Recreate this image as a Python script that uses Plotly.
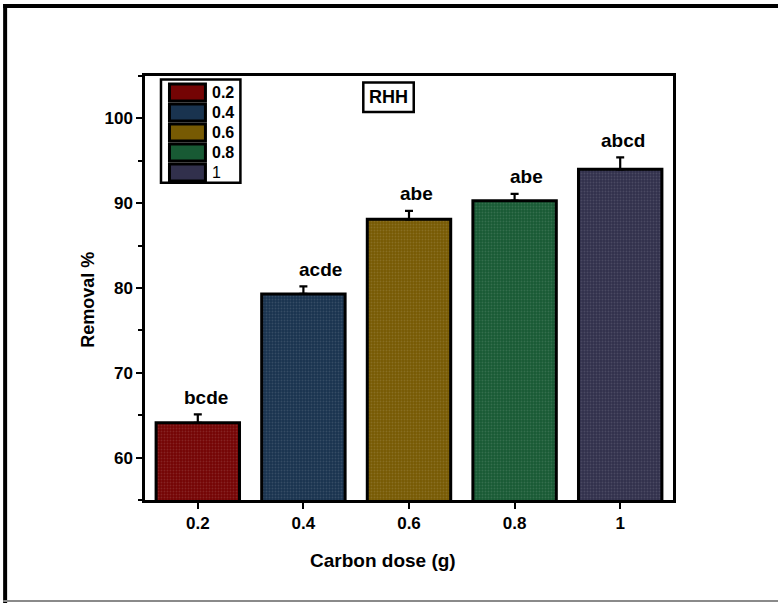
import plotly.graph_objects as go

# Removal efficiency versus carbon dose (RHH)
doses = ["0.2", "0.4", "0.6", "0.8", "1"]
removal = [64.1, 79.3, 88.1, 90.3, 94.0]
removal_err = [1.0, 0.9, 1.0, 0.8, 1.4]
letters = ["bcde", "acde", "abe", "abe", "abcd"]
bar_colors = ["#740404", "#19334f", "#775a03", "#185a34", "#31304c"]
legend_bold = [True, True, True, True, False]

# small horizontal nudges for the significance letters (px)
letter_dx = [8, 17, 7, 12, 3]

FONT = "Liberation Sans, Arial, sans-serif"

# plot-area geometry in pixels
W, H = 778, 603
L, R, T, B = 145, 104.5, 76, 102.5
PW, PH = W - L - R, H - T - B


def px(x):
    return (x - L) / PW


def py(y):
    return (H - B - y) / PH


fig = go.Figure()
fig.add_trace(go.Bar(
    x=doses,
    y=removal,
    width=0.79,
    marker=dict(
        color=bar_colors,
        line=dict(color="black", width=3),
        pattern=dict(shape=".", size=3, solidity=0.3,
                     fgcolor="white", fgopacity=0.12),
    ),
    error_y=dict(type="data", symmetric=False, array=removal_err,
                 arrayminus=[0] * len(removal), color="black",
                 thickness=2.2, width=4),
    showlegend=False,
))

# significance letters above each error bar (category index positions)
for i, (v, e, t, dx) in enumerate(zip(removal, removal_err, letters, letter_dx)):
    fig.add_annotation(x=i, y=v + e, text=t, showarrow=False,
                       xanchor="center", yanchor="middle",
                       xshift=dx, yshift=17,
                       font=dict(family=FONT, size=19, color="black", weight="bold"))

shapes = []
# legend box
shapes.append(dict(type="rect", xref="paper", yref="paper",
                   x0=px(161), x1=px(240.5), y0=py(79.5), y1=py(183),
                   line=dict(color="black", width=2.5), fillcolor="white"))
row0, step = 92.5, 20
for i, (name, col, bold) in enumerate(zip(doses, bar_colors, legend_bold)):
    cy = row0 + i * step
    shapes.append(dict(type="rect", xref="paper", yref="paper",
                       x0=px(169.5), x1=px(205.5), y0=py(cy + 8.5), y1=py(cy - 8.5),
                       line=dict(color="black", width=3), fillcolor=col))
    fig.add_annotation(xref="paper", yref="paper", x=px(210), y=py(cy),
                       text=name, showarrow=False, xanchor="left", yanchor="middle",
                       font=dict(family=FONT, size=16, color="black",
                                 weight="bold" if bold else "normal"))

# sample tag box
shapes.append(dict(type="rect", xref="paper", yref="paper",
                   x0=px(363.5), x1=px(414), y0=py(112), y1=py(82.5),
                   line=dict(color="black", width=2.5), fillcolor="white"))
fig.add_annotation(xref="paper", yref="paper", x=px(388.7), y=py(97.5),
                   text="RHH", showarrow=False, xanchor="center", yanchor="middle",
                   font=dict(family=FONT, size=18, color="black", weight="bold"))

# outer page frame
shapes.append(dict(type="line", xref="paper", yref="paper",
                   x0=px(3), x1=px(780), y0=py(6), y1=py(6),
                   line=dict(color="black", width=4)))
shapes.append(dict(type="line", xref="paper", yref="paper",
                   x0=px(5), x1=px(5), y0=py(4), y1=py(605),
                   line=dict(color="black", width=4)))
shapes.append(dict(type="line", xref="paper", yref="paper",
                   x0=px(3), x1=px(780), y0=py(601.5), y1=py(601.5),
                   line=dict(color="#8a8a8a", width=2)))

# axis titles
fig.add_annotation(xref="paper", yref="paper", x=px(383), y=py(561),
                   text="Carbon dose (g)", showarrow=False,
                   xanchor="center", yanchor="middle",
                   font=dict(family=FONT, size=19, color="black", weight="bold"))
fig.add_annotation(xref="paper", yref="paper", x=px(88), y=py(300),
                   text="Removal %", showarrow=False, textangle=-90,
                   xanchor="center", yanchor="middle",
                   font=dict(family=FONT, size=18, color="black", weight="bold"))

fig.update_layout(
    width=W, height=H,
    margin=dict(l=L, r=R, t=T, b=B, pad=0),
    paper_bgcolor="white", plot_bgcolor="white",
    shapes=shapes,
    bargap=0.2,
    xaxis=dict(
        type="category", range=[-0.5, 4.5],
        showline=True, linecolor="black", linewidth=2.5, mirror=True,
        ticks="outside", ticklen=6, tickwidth=2, tickcolor="black",
        showgrid=False, zeroline=False,
        tickfont=dict(family=FONT, size=17, color="black", weight="bold"),
    ),
    yaxis=dict(
        range=[55, 105], tick0=0, dtick=10,
        showline=True, linecolor="black", linewidth=2.5, mirror=True,
        ticks="outside", ticklen=6, tickwidth=2, tickcolor="black",
        minor=dict(dtick=5, tick0=0, ticks="outside", ticklen=4,
                   tickwidth=2, tickcolor="black", showgrid=False),
        showgrid=False, zeroline=False,
        tickfont=dict(family=FONT, size=17, color="black", weight="bold"),
    ),
)

fig.write_html("out.html")
